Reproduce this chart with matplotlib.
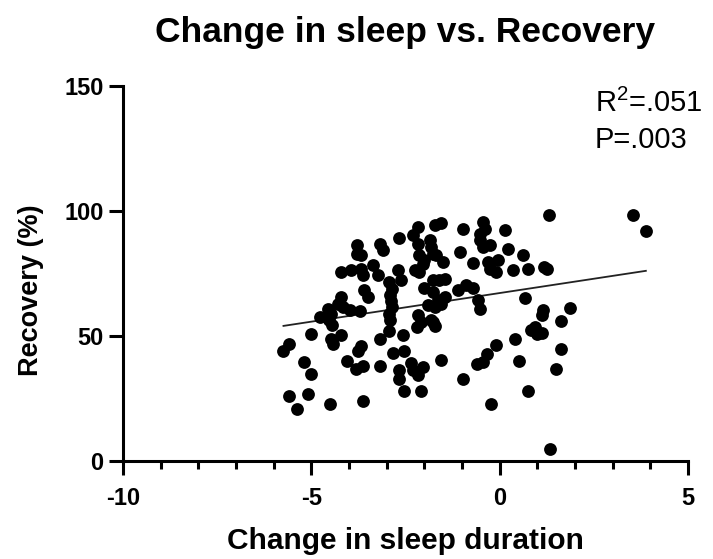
import matplotlib
matplotlib.use("Agg")
import matplotlib.pyplot as plt
import numpy as np
from matplotlib.ticker import MultipleLocator

plt.rcParams['font.family'] = ['Liberation Sans', 'DejaVu Sans']
plt.rcParams['mathtext.fontset'] = 'custom'
plt.rcParams['mathtext.rm'] = 'Liberation Sans'
plt.rcParams['mathtext.it'] = 'Liberation Sans'
plt.rcParams['axes.unicode_minus'] = False

# Change in sleep duration (x) and recovery % (y) per subject
change_in_sleep = [
    -5.74, -5.58, -5.19, -5.01, -5.59, -5.10, -5.38, -4.50, -5.01, -4.78,
    -4.52, -4.45, -4.48, -4.21, -4.43, -4.57, -4.48, -4.21, -4.30, -4.15,
    -3.97, -3.70, -4.21, -3.94, -3.68, -3.64, -3.37, -3.24, -2.70, -2.61,
    -3.80, -3.80, -3.68, -3.19, -3.10, -2.66, -3.59, -3.50, -2.95, -2.85,
    -2.92, -2.88, -2.85, -2.95, -2.90, -2.93, -3.19, -2.57, -2.20, -3.17,
    -2.84, -2.55, -2.68, -2.66, -2.35, -2.30, -2.17, -2.53, -2.08, -2.04,
    -4.06, -3.81, -3.64, -3.77, -3.68, -3.64, -1.77, -1.73, -1.55, -0.98,
    -0.60, -0.44, -0.34, -0.10, -0.22, 0.40, 0.51, 0.75, 0.84, 0.98,
    1.11, 0.93, 1.33, 1.30, 3.55, 3.88, 1.17, 1.26, 1.14, 1.86,
    1.64, 1.11, 1.62, 1.49, -2.17, -1.73, -1.55, -0.98, -0.44, -0.40,
    -0.53, 0.13, -2.30, -2.17, -1.86, -1.82, -0.53, -0.44, -0.27, -1.06,
    0.22, 0.62, -2.13, -2.00, -1.77, -1.68, -1.50, -0.71, -0.31, -0.04,
    -0.27, -0.09, 0.35, 0.75, -2.26, -2.13, -2.04, -1.77, -1.60, -1.46,
    -2.00, -1.77, -1.46, -1.64, -1.11, -0.89, -0.71, -0.58, -0.53, -1.90,
    -1.73, -1.55, -2.17, -2.08, -1.82, 0.66,
]
recovery = [
    44, 47, 39.5, 35, 26, 27, 21, 23, 51, 57.5,
    56.5, 54.5, 49, 50.5, 47, 61, 59, 65.7, 63, 61.5,
    60.4, 60.2, 75.7, 76.4, 77, 74.4, 78.4, 74.4, 76.4, 72.4,
    86.4, 83, 82.4, 87, 84.4, 89.3, 68.4, 65.7, 71.5, 69,
    66.5, 64, 61.5, 59, 56.5, 52.2, 49, 50.4, 53.7, 38,
    43.3, 44, 36.4, 33, 39.3, 36.4, 34.4, 28, 28, 37.7,
    40, 37, 38, 44, 46, 24, 55.7, 54, 40.4, 33,
    39, 39.5, 43, 46.4, 23, 49, 40, 28, 52.4, 51,
    51.3, 53.7, 5, 98.4, 98.4, 92, 77.7, 77, 60.4, 61.3,
    56.1, 58.4, 45, 37, 93.7, 94.4, 95.3, 93, 95.7, 93,
    91, 92.4, 90.4, 87, 88.4, 85.7, 88.4, 85.7, 86.4, 83.7,
    85, 82.4, 82.4, 80.4, 83, 82.4, 79.7, 79.3, 79.7, 80.4,
    77, 75.7, 76.4, 77, 76.4, 75.7, 79, 72.4, 72.4, 73,
    69.4, 67.7, 65.7, 64.4, 68.4, 70.4, 69.4, 64.4, 61, 62.4,
    61.7, 62.8, 58.4, 55.7, 56.4, 65.3,
]

# Linear fit shown on the chart
fit_slope = 2.29
fit_intercept = 67.2
stats_text = ["R$^2$=.051", "P=.003"]

x_ticks = [-10, -5, 0, 5]
y_ticks = [0, 50, 100, 150]

fig = plt.figure(figsize=(7.13, 5.59), dpi=100)
ax = fig.add_axes([0.1725, 0.1753, 0.7925, 0.6707])

ax.scatter(change_in_sleep, recovery, s=85, color='black', linewidths=0, zorder=3)

xs = np.array([min(change_in_sleep), max(change_in_sleep)])
ax.plot(xs, fit_slope * xs + fit_intercept, color='#222222', lw=1.3, zorder=2)

ax.set_xlim(-10, 5)
ax.set_ylim(0, 150)
ax.set_xticks(x_ticks)
ax.set_yticks(y_ticks)
ax.xaxis.set_minor_locator(MultipleLocator(1))

for side in ('top', 'right'):
    ax.spines[side].set_visible(False)
for side in ('left', 'bottom'):
    ax.spines[side].set_linewidth(2.2)

ax.tick_params(axis='both', which='major', direction='out', length=10, width=2.2,
               labelsize=17)
ax.tick_params(axis='x', which='major', pad=9)
ax.tick_params(axis='y', which='major', pad=4)
ax.tick_params(axis='x', which='minor', direction='out', length=5.5, width=2.2)
for lab in ax.get_xticklabels() + ax.get_yticklabels():
    lab.set_fontweight('bold')

ax.set_xlabel('Change in sleep duration', fontsize=21.5, fontweight='bold', labelpad=12)
ax.set_ylabel('Recovery (%)', fontsize=19.5, fontweight='bold')
ax.yaxis.set_label_coords(-0.14, 0.455)
fig.suptitle('Change in sleep vs. Recovery', fontsize=25.5, fontweight='bold',
             x=0.568, y=0.972)

ax.text(0.835, 0.955, stats_text[0], transform=ax.transAxes, fontsize=21,
        ha='left', va='center')
ax.text(0.835, 0.856, stats_text[1], transform=ax.transAxes, fontsize=21,
        ha='left', va='center')

fig.savefig('out.png', dpi=100)
